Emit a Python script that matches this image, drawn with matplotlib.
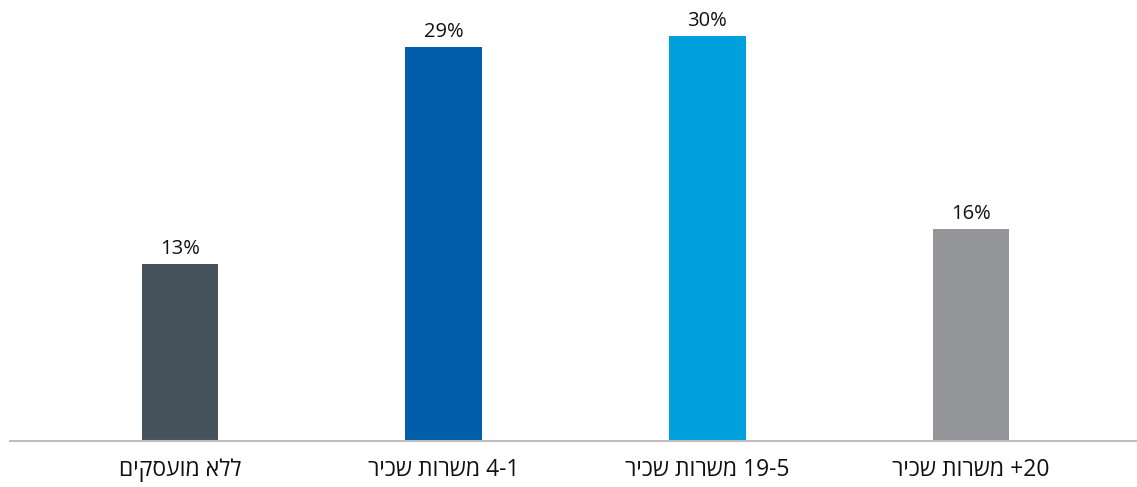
import matplotlib
matplotlib.use("Agg")
import matplotlib.pyplot as plt

# Data (category labels in visual order for left-to-right rendering)
categories = ["םיקסעומ אלל", "ריכש תורשמ 4-1", "ריכש תורשמ 19-5", "ריכש תורשמ +20"]
values = [13.1, 29.2, 30.0, 15.7]
value_labels = ["13%", "29%", "30%", "16%"]
colors = ["#46535d", "#005eab", "#00a0dc", "#939598"]

plt.rcParams['font.family'] = ['Open Sans', 'DejaVu Sans']

fig = plt.figure(figsize=(11.37, 4.87), dpi=100)
ax = fig.add_axes([10 / 1137, 46 / 487, 1127 / 1137, 441 / 487])

x = list(range(len(categories)))
bars = ax.bar(x, values, width=0.29, color=colors)

for xi, v, lab in zip(x, values, value_labels):
    ax.annotate(lab, (xi, v), xytext=(0, 4), textcoords="offset points",
                ha="center", va="bottom", fontsize=14.5, color="#111111")

ax.set_xlim(-0.644, 3.629)
ax.set_ylim(0, 32.7)
ax.set_xticks(x)
ax.set_xticklabels(categories, fontsize=16.5, color="#111111")
ax.tick_params(axis="x", length=0, pad=12)
ax.set_yticks([])
for s in ["top", "right", "left"]:
    ax.spines[s].set_visible(False)
ax.spines["bottom"].set_color("#bfbfbf")
ax.spines["bottom"].set_linewidth(1.5)

fig.savefig("out.png", dpi=100)
